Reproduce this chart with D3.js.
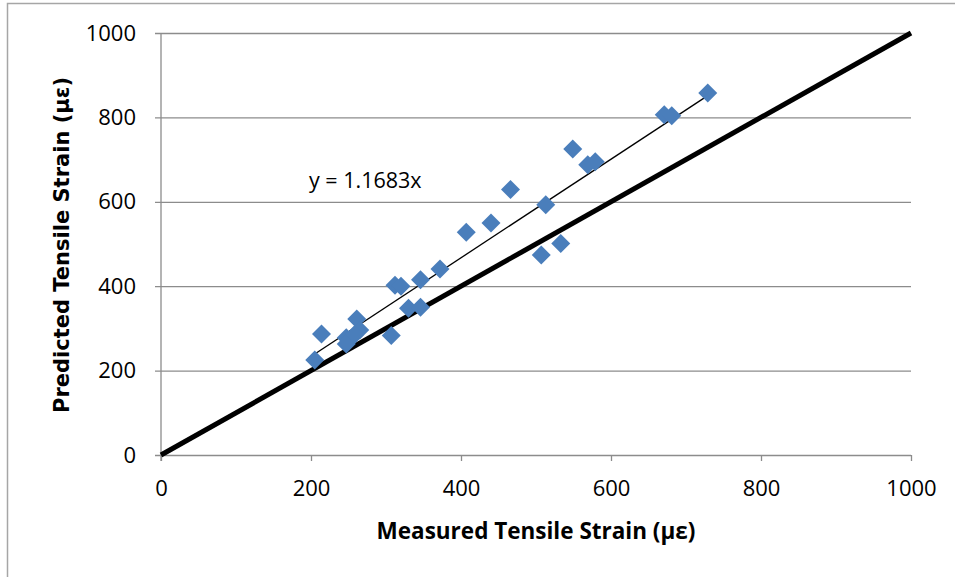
<!DOCTYPE html>
<html>
<head>
<meta charset="utf-8">
<script src="https://cdn.jsdelivr.net/npm/d3@7/dist/d3.min.js"></script>
<style>
  html, body { margin: 0; padding: 0; background: #fff; }
  svg { display: block; }
</style>
</head>
<body>
<svg id="chart" width="955" height="577"></svg>
<script>
// Measured vs predicted tensile strain (microstrain)
const measured  = [205, 214, 247, 247, 261, 265, 258, 307, 312, 320, 330, 346, 346, 372, 407, 440, 466, 513, 507, 533, 549, 569, 579, 671, 681, 729];
const predicted = [225, 287, 278, 263, 322, 296, 285, 283, 402, 400, 348, 350, 415, 441, 528, 550, 629, 593, 474, 501, 725, 688, 695, 806, 804, 858];
const xTicks = [0, 200, 400, 600, 800, 1000];
const yTicks = [0, 200, 400, 600, 800, 1000];
const slope = 1.1683;
const xTitle = "Measured Tensile Strain (\u03BC\u03B5)";
const yTitle = "Predicted Tensile Strain (\u03BC\u03B5)";
const fitLabel = "y = 1.1683x";

const svg = d3.select("#chart");
const plot = { left: 161, right: 911, top: 33, bottom: 455 };

const x = d3.scaleLinear().domain([0, 1000]).range([plot.left, plot.right]);
const y = d3.scaleLinear().domain([0, 1000]).range([plot.bottom, plot.top]);

// outer chart frame
svg.append("rect")
  .attr("x", 7.5).attr("y", 3.5)
  .attr("width", 1000).attr("height", 1000)
  .attr("fill", "none").attr("stroke", "#a6a6a6").attr("stroke-width", 1.5);

const grey = "#8c8c8c";

// horizontal gridlines with left tick marks
const yAxis = d3.axisLeft(y).tickValues(yTicks)
  .tickSize(-(plot.right - plot.left)).tickPadding(20).tickFormat(d3.format("d"));
const gy = svg.append("g").attr("transform", `translate(${plot.left},0)`).call(yAxis);
gy.select(".domain").remove();
gy.selectAll(".tick line")
  .attr("x1", -6).attr("stroke", grey).attr("stroke-width", 1.3);
gy.selectAll(".tick text")
  .attr("x", -25)
  .attr("font-family", "'Open Sans', sans-serif").attr("font-size", 22).attr("fill", "#000");

// x axis with downward tick marks
const xAxis = d3.axisBottom(x).tickValues(xTicks).tickSize(6).tickPadding(19).tickFormat(d3.format("d"));
const gx = svg.append("g").attr("transform", `translate(0,${plot.bottom})`).call(xAxis);
gx.select(".domain").remove();
gx.selectAll(".tick line").attr("stroke", grey).attr("stroke-width", 1.3);
gx.selectAll(".tick text")
  .attr("font-family", "'Open Sans', sans-serif").attr("font-size", 22).attr("fill", "#000");

// vertical axis line
svg.append("line")
  .attr("x1", x(0)).attr("x2", x(0))
  .attr("y1", y(1000)).attr("y2", y(0) + 6)
  .attr("stroke", grey).attr("stroke-width", 1.3);

// 1:1 reference line
svg.append("line")
  .attr("x1", x(0)).attr("y1", y(0))
  .attr("x2", x(1000)).attr("y2", y(1000))
  .attr("stroke", "#000").attr("stroke-width", 5);

// linear fit through origin, drawn across the data range
const xMin = d3.min(measured), xMax = d3.max(measured);
svg.append("line")
  .attr("x1", x(xMin)).attr("y1", y(slope * xMin))
  .attr("x2", x(xMax)).attr("y2", y(slope * xMax))
  .attr("stroke", "#000").attr("stroke-width", 1.3);

// data markers
const diamond = d3.symbol().type(d3.symbolDiamond2).size(230);
svg.append("g").selectAll("path")
  .data(measured.map((m, i) => [m, predicted[i]]))
  .join("path")
  .attr("d", diamond)
  .attr("transform", d => `translate(${x(d[0])},${y(d[1])})`)
  .attr("fill", "#4a7ebb");

// fit equation
svg.append("text")
  .attr("x", 309).attr("y", 188)
  .attr("font-family", "'Open Sans', sans-serif").attr("font-size", 21.5)
  .attr("fill", "#000")
  .text(fitLabel);

// axis titles
svg.append("text")
  .attr("x", 536).attr("y", 539)
  .attr("text-anchor", "middle")
  .attr("font-family", "'Open Sans', sans-serif").attr("font-weight", "bold").attr("font-size", 22.5)
  .attr("fill", "#000")
  .text(xTitle);

svg.append("text")
  .attr("transform", `translate(69,245) rotate(-90)`)
  .attr("text-anchor", "middle")
  .attr("font-family", "'DejaVu Sans', sans-serif").attr("font-weight", "bold").attr("font-size", 21)
  .attr("fill", "#000")
  .text(yTitle);
</script>
</body>
</html>
